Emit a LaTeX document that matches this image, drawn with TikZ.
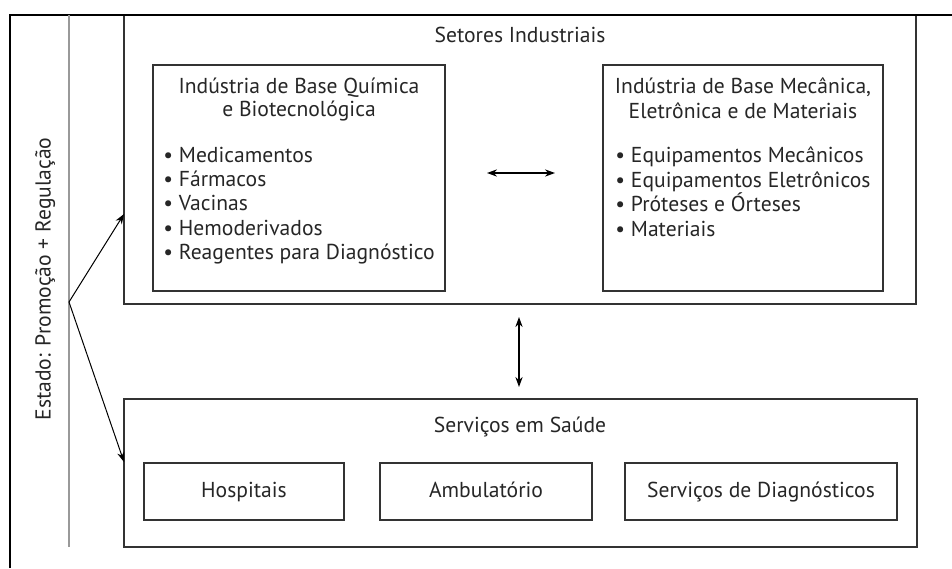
\documentclass[tikz,border=0pt]{standalone}
\usepackage{fontspec}
\setmainfont{PT Sans}
\usetikzlibrary{fit,arrows.meta}
\begin{document}
\begin{tikzpicture}[x=0.5pt,y=-0.5pt,
  box/.style={draw=black!80, line width=0.7pt, inner sep=0pt},
  txt/.style={font=\fontsize{10.8}{12.5}\selectfont, text=black!85, inner sep=0pt, text height=7.5pt, text depth=2pt},
  tip/.tip={Stealth[length=5pt,width=3.6pt]},
  link/.style={line width=0.6pt, tip-tip},
  oneway/.style={line width=0.5pt, -tip}]
\useasboundingbox (0,0) rectangle (952,568);
% boxes
\node[box, fit={(124,15) (916,304)}] (sec) {};
\node[box, fit={(153,65) (445,291)}] (quim) {};
\node[box, fit={(603,65) (883,291)}] (mec) {};
\node[box, fit={(124,399) (917,547)}] (serv) {};
\node[box, fit={(144,463) (344,520)}] (hosp) {};
\node[box, fit={(380,463) (592,520)}] (amb) {};
\node[box, fit={(625,463) (897,520)}] (diag) {};
% frame
\draw[line width=1.3pt] (10,568) -- (10,15) -- (952,15);
\draw[black!40, line width=1pt] (69,15) -- (69,547);
% texts
\node[txt] (t1) at (520,37) {Setores Industriais};
\node[txt] (q0a) at (299,88) {Indústria de Base Química};
\node[txt] (q0b) at (299,111) {e Biotecnológica};
\foreach \t [count=\i] in {Medicamentos, Fármacos, Vacinas, Hemoderivados, Reagentes para Diagnóstico}
  \node[txt, anchor=west] (q\i) at (163,{157+24.2*(\i-1)}) {• \t};
\node[txt] (m0a) at (743,88) {Indústria de Base Mecânica,};
\node[txt] (m0b) at (743,113) {Eletrônica e de Materiais};
\foreach \t [count=\i] in {Equipamentos Mecânicos, Equipamentos Eletrônicos, Próteses e Órteses, Materiais}
  \node[txt, anchor=west] (m\i) at (615,{157+24.6*(\i-1)}) {• \t};
\node[txt] (t2) at (520,427) {Serviços em Saúde};
\node[txt] at (hosp.center) (h) {Hospitais};
\node[txt] at (amb.center) (a) {Ambulatório};
\node[txt] at (diag.center) (d) {Serviços de Diagnósticos};
\node[txt, rotate=90] (estado) at (45,279) {Estado: Promoção + Regulação};
% connectors
\coordinate (hl) at (487,173);
\coordinate (hr) at (555,173);
\draw[link] (hl) -- (hr);
\coordinate (vt) at (519,317);
\coordinate (vb) at (519,387);
\draw[link] (vt) -- (vb);
\coordinate (st) at (69,302);
\coordinate (up) at (124,214);
\coordinate (dn) at (124,462);
\draw[oneway] (st) -- (up);
\draw[oneway] (st) -- (dn);
\end{tikzpicture}
\end{document}
